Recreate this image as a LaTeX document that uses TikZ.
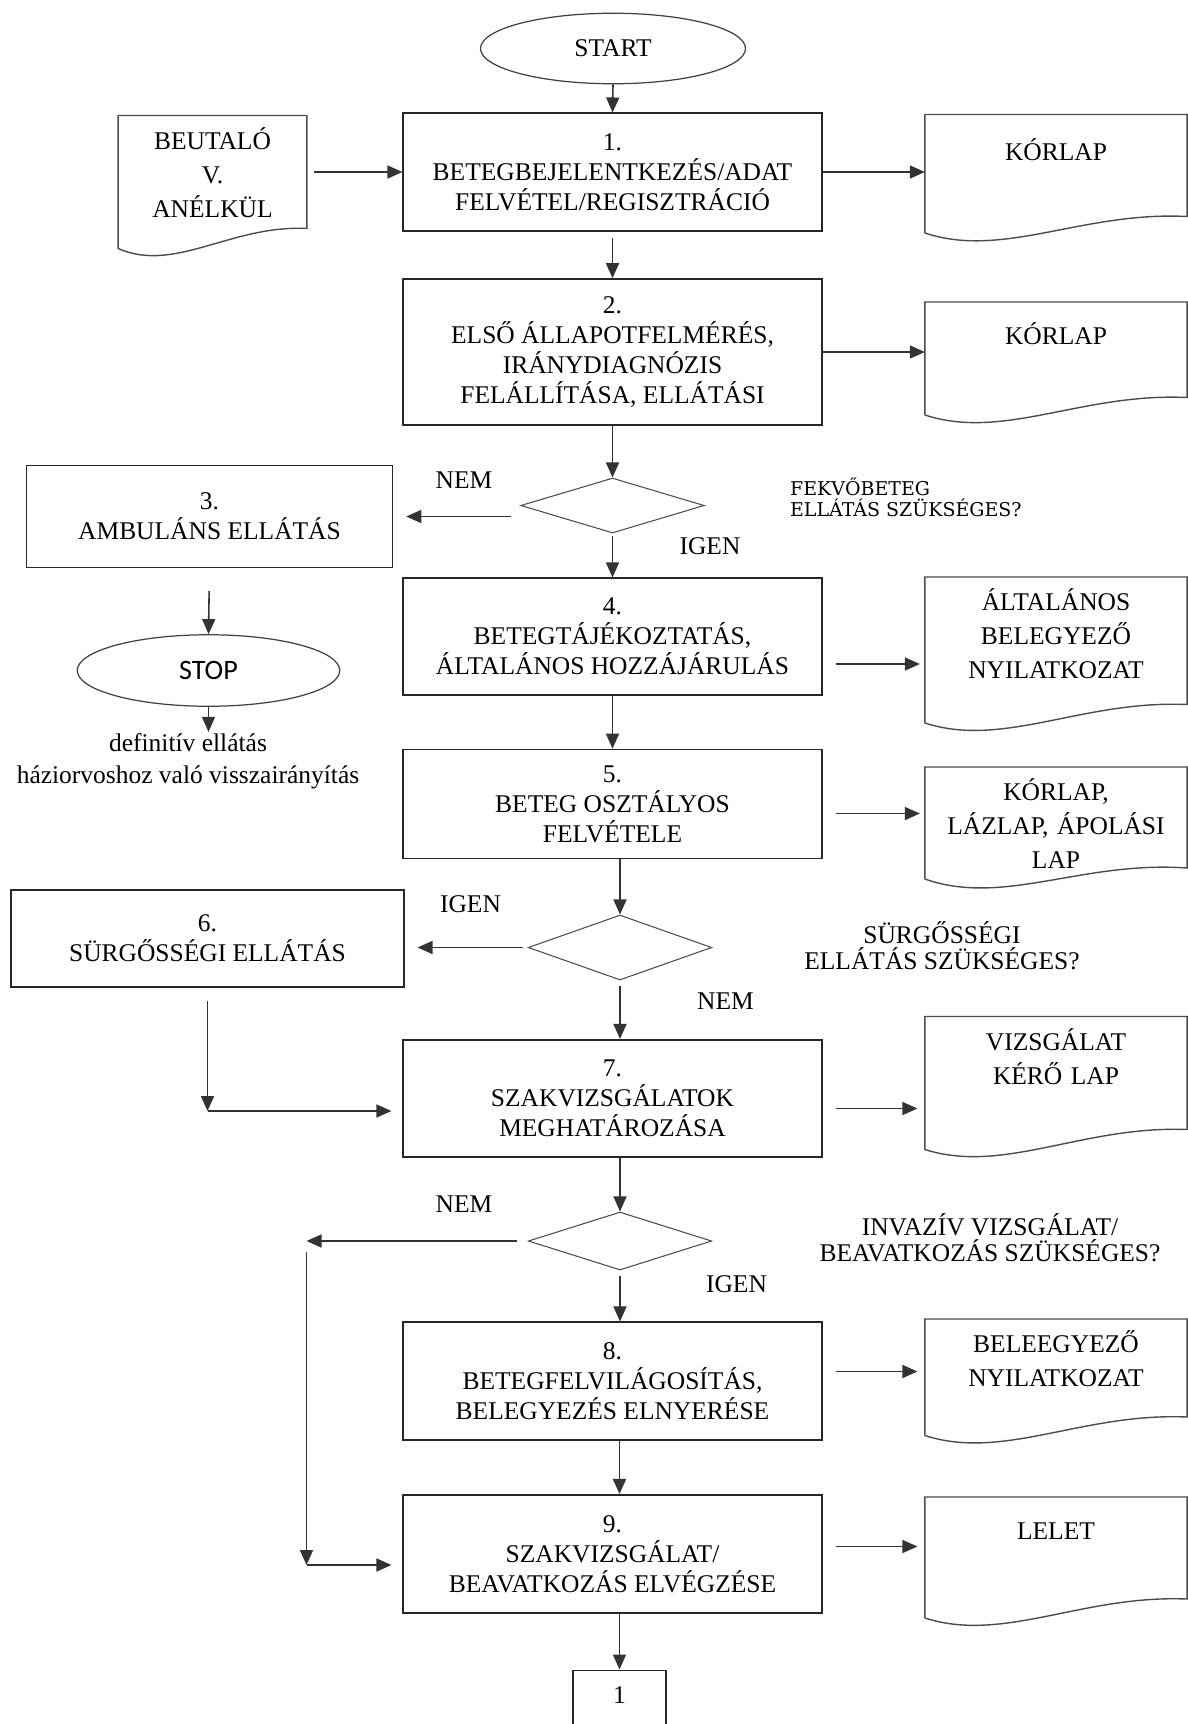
\documentclass[tikz,border=0pt]{standalone}
\usepackage{fontspec}
\setmainfont{Liberation Serif}
\newfontfamily\qfont{DejaVu Serif}
\newfontfamily\stopfont{Carlito}
\usetikzlibrary{calc,arrows.meta,shapes.geometric}
\newcommand{\boxfont}{\fontsize{14.5}{17}\selectfont}
\newcommand{\docfont}{\fontsize{14.5}{19.4}\selectfont}
% document symbol: node name, right height, left height
\newcommand{\docframe}[3]{%
  \coordinate (#1br) at ([yshift=-#2]#1.north east);
  \coordinate (#1bl) at ([yshift=-#3]#1.north west);
  \draw[docline] (#1bl) -- (#1.north west) -- (#1.north east) -- (#1br)
    .. controls ($(#1br)!0.4!(#1bl)+(0,0.24)$) and ($(#1bl)!0.3!(#1br)+(0,-0.62)$) .. (#1bl);
}
\tikzset{
  proc/.style={rectangle, draw=black!85, line width=0.9pt, minimum width=8.37cm, align=center, font=\boxfont},
  term/.style={ellipse, draw=black!75, line width=0.7pt, minimum width=5.3cm, minimum height=1.41cm, font=\boxfont},
  dec/.style={diamond, draw=black!70, line width=0.6pt, minimum width=3.67cm, minimum height=1.15cm, inner sep=0pt},
  doc/.style={anchor=north, minimum width=5.23cm, text width=4.8cm, align=center, inner ysep=9pt, text height=10pt, font=\docfont},
  lbl/.style={font=\boxfont, inner sep=1pt},
  arr/.style={draw=black!80, line width=0.9pt, -{Triangle[length=3mm,width=2.6mm]}},
  docline/.style={draw=black!70, line width=0.8pt},
}

\begin{document}
\begin{tikzpicture}
  \useasboundingbox (0,0) rectangle (23.76,-34.48);

  % main column
  \node[term] (start) at (12.26,-0.97) {START};
  \node[proc, minimum height=2.35cm] (b1) at (12.25,-3.44) {1.\\BETEGBEJELENTKEZÉS/ADAT\\FELVÉTEL/REGISZTRÁCIÓ};
  \node[proc, minimum height=2.92cm] (b2) at (12.25,-7.04) {2.\\ELSŐ ÁLLAPOTFELMÉRÉS,\\IRÁNYDIAGNÓZIS\\FELÁLLÍTÁSA, ELLÁTÁSI};
  \node[dec, minimum height=1.10cm] (d1) at (12.25,-10.11) {};
  \node[proc, minimum height=2.33cm] (b4) at (12.25,-12.73) {4.\\BETEGTÁJÉKOZTATÁS,\\ÁLTALÁNOS HOZZÁJÁRULÁS};
  \node[proc, minimum height=2.18cm] (b5) at (12.25,-16.08) {5.\\BETEG OSZTÁLYOS\\FELVÉTELE};
  \node[dec, minimum height=1.30cm] (d2) at (12.40,-18.95) {};
  \node[proc, minimum height=2.35cm] (b7) at (12.25,-21.97) {7.\\SZAKVIZSGÁLATOK\\MEGHATÁROZÁSA};
  \node[dec, minimum height=1.16cm] (d3) at (12.40,-24.82) {};
  \node[proc, minimum height=2.35cm] (b8) at (12.25,-27.62) {8.\\BETEGFELVILÁGOSÍTÁS,\\BELEGYEZÉS ELNYERÉSE};
  \node[proc, minimum height=2.37cm] (b9) at (12.25,-31.08) {9.\\SZAKVIZSGÁLAT/\\BEAVATKOZÁS ELVÉGZÉSE};
  \node[proc, minimum width=1.87cm, anchor=north, inner ysep=9pt, text height=10pt, text depth=25pt] (one) at (12.39,-33.39) {1};

  % left column
  \node[doc, minimum width=3.76cm, text width=3.3cm] (beut) at (4.25,-2.31) {BEUTALÓ\\V.\\ANÉLKÜL};
  \node[proc, minimum width=7.32cm, minimum height=2.04cm] (b3) at (4.19,-10.33) {3.\\AMBULÁNS ELLÁTÁS};
  \node[term, minimum width=5.25cm, minimum height=1.43cm, font=\stopfont\fontsize{16}{18}\selectfont] (stop) at (4.17,-13.41) {STOP};
  \node[lbl, align=center, font=\fontsize{14.5}{18}\selectfont] (vissza) at (3.76,-15.23) {definitív ellátás\\háziorvoshoz való visszairányítás};
  \node[proc, minimum width=7.87cm, minimum height=1.93cm] (b6) at (4.15,-18.77) {6.\\SÜRGŐSSÉGI ELLÁTÁS};

  % documents
  \node[doc, inner ysep=16pt] (k1) at (21.12,-2.29) {KÓRLAP};
  \node[doc, inner ysep=14pt] (k2) at (21.12,-6.04) {KÓRLAP};
  \node[doc] (ab) at (21.12,-11.54) {ÁLTALÁNOS\\BELEGYEZŐ\\NYILATKOZAT};
  \node[doc] (kl) at (21.12,-15.34) {KÓRLAP,\\LÁZLAP, ÁPOLÁSI\\LAP};
  \node[doc] (vk) at (21.12,-20.33) {VIZSGÁLAT\\KÉRŐ LAP};
  \node[doc] (be) at (21.12,-26.38) {BELEEGYEZŐ\\NYILATKOZAT};
  \node[doc, inner ysep=14pt] (lelet) at (21.12,-29.94) {LELET};
  \docframe{beut}{2.26cm}{2.66cm}
  \docframe{k1}{2.04cm}{2.37cm}
  \docframe{k2}{1.91cm}{2.26cm}
  \docframe{ab}{2.55cm}{2.92cm}
  \docframe{kl}{2.02cm}{2.24cm}
  \docframe{vk}{2.26cm}{2.66cm}
  \docframe{be}{1.96cm}{2.33cm}
  \docframe{lelet}{2.04cm}{2.42cm}

  % questions and answers
  \node[lbl] (nem1) at (9.28,-9.61) {NEM};
  \node[lbl] (igen1) at (14.20,-10.92) {IGEN};
  \node[lbl, align=left, anchor=west, font=\qfont\fontsize{10.8}{12}\selectfont] (q1) at (15.76,-9.95) {FEKVŐBETEG\\ELLÁTÁS SZÜKSÉGES?};
  \node[lbl] (igen2) at (9.41,-18.09) {IGEN};
  \node[lbl] (nem2) at (14.51,-20.02) {NEM};
  \node[lbl, align=center, font=\fontsize{14.5}{15}\selectfont] (q2) at (18.84,-18.92) {SÜRGŐSSÉGI\\ELLÁTÁS SZÜKSÉGES?};
  \node[lbl] (nem3) at (9.28,-24.09) {NEM};
  \node[lbl] (igen3) at (14.73,-25.69) {IGEN};
  \node[lbl, align=center, font=\fontsize{14.5}{15}\selectfont] (q3) at (19.80,-24.76) {INVAZÍV VIZSGÁLAT/\\BEAVATKOZÁS SZÜKSÉGES?};

  % connectors
  \draw[arr] (start.south) -- (b1.north);
  \draw[arr, shorten <=1.5mm] (beut.east |- b1.west) -- (b1.west);
  \draw[arr] (b1.east) -- (b1.east -| k1.west);
  \draw[arr, shorten <=1.2mm] (b1.south) -- (b2.north);
  \draw[arr] (b2.east) -- (b2.east -| k2.west);
  \draw[arr] (b2.south) -- (d1.north);
  \draw[arr, shorten <=1.8mm, shorten >=2.6mm] (d1.west |- b3.east) -- (b3.east);
  \draw[arr, shorten <=4.5mm] (b3.south) -- (stop.north);
  \draw[arr] (stop.south) -- (stop.south |- vissza.north);
  \draw[arr, shorten <=0.5mm] (d1.south) -- (b4.north);
  \draw[arr, shorten <=2.6mm, shorten >=1mm] ($(b4.east)+(0,-0.55)$) -- ($(b4.east -| ab.west)+(0,-0.55)$);
  \draw[arr] (b4.south) -- (b5.north);
  \draw[arr, shorten <=2.6mm, shorten >=1mm] ($(b5.east)+(0,-0.19)$) -- ($(b5.east -| kl.west)+(0,-0.19)$);
  \draw[arr] (b5.south -| d2.north) -- (d2.north);
  \draw[arr, shorten <=1mm, shorten >=2.5mm] (d2.west) -- (d2.west -| b6.east);
  \draw[arr, shorten <=1mm] (d2.south) -- (d2.south |- b7.north);
  \coordinate (c67) at ($(b6.south |- b7.west)+(0,-0.25)$);
  \draw[arr, shorten <=2.6mm] (b6.south) -- (c67);
  \draw[arr, shorten >=2.2mm] (c67) -- ($(b7.west)+(0,-0.25)$);
  \draw[arr, shorten <=2.6mm, shorten >=1.5mm] ($(b7.east)+(0,-0.2)$) -- ($(b7.east -| vk.west)+(0,-0.2)$);
  \draw[arr] (b7.south -| d3.north) -- (d3.north);
  \coordinate (nemL) at (6.13,-24.82);
  \coordinate (nemB) at (6.13,-31.30);
  \draw[arr, shorten <=2.2mm] (d3.west) -- (nemL);
  \draw[arr, shorten <=2.2mm] (nemL) -- (nemB);
  \draw[arr, shorten >=2.2mm] (nemB) -- (nemB -| b9.west);
  \draw[arr, shorten <=1mm] (d3.south) -- (d3.south |- b8.north);
  \draw[arr, shorten <=2.6mm, shorten >=1.5mm] ($(b8.east)+(0,0.19)$) -- ($(b8.east -| be.west)+(0,0.19)$);
  \draw[arr] (b8.south -| one.north) -- (b9.north -| one.north);
  \draw[arr, shorten <=2.6mm, shorten >=1.5mm] ($(b9.east)+(0,0.15)$) -- ($(b9.east -| lelet.west)+(0,0.15)$);
  \draw[arr] (b9.south -| one.north) -- (one.north);
\end{tikzpicture}
\end{document}
